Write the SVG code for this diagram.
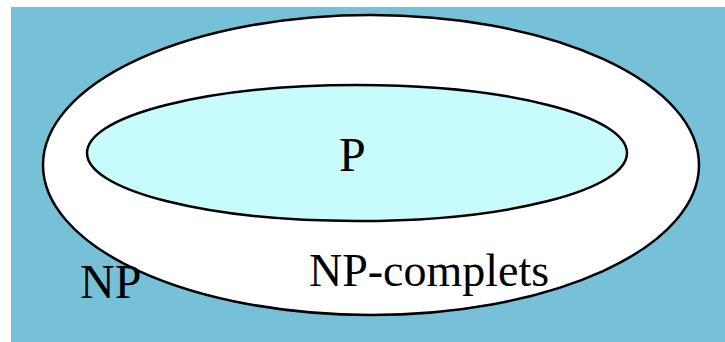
<svg xmlns="http://www.w3.org/2000/svg" width="725" height="342" viewBox="0 0 725 342">
<style>
.lbl{font-family:"Liberation Serif","Times New Roman",serif;font-size:48px;fill:#000}
.ring{stroke:#000;stroke-width:2.5}
</style>
<rect x="0" y="0" width="725" height="342" fill="#fff"/>
<rect x="11" y="7" width="714" height="335" fill="#77c1d8"/>
<g id="NP">
<ellipse class="ring" cx="371" cy="165" rx="328" ry="150" fill="#fff"/>
<text class="lbl" x="80" y="298">NP</text>
</g>
<g id="P">
<ellipse class="ring" cx="357" cy="153" rx="270" ry="68" fill="#c8fcfc"/>
<text class="lbl" x="339" y="171">P</text>
</g>
<g id="NPC">
<text class="lbl" x="309" y="286" style="font-size:46px">NP-complets</text>
</g>
<g id="connectors"/>
</svg>
